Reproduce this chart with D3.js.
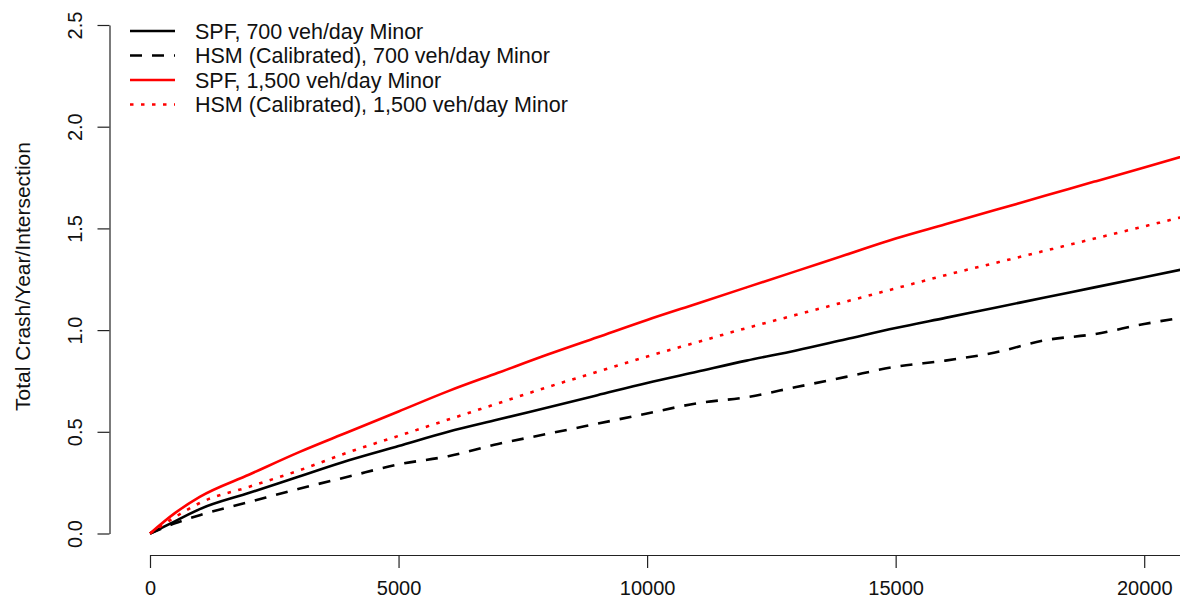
<!DOCTYPE html>
<html>
<head>
<meta charset="utf-8">
<script src="https://cdn.jsdelivr.net/npm/d3@7"></script>
<style>
  html, body { margin: 0; padding: 0; background: #fff; }
  text { font-family: "Liberation Sans", Arial, sans-serif; }
</style>
</head>
<body>
<svg id="chart" width="1180" height="610"></svg>
<script>
// ---- data ----
const majorAADT = [0, 500, 1000, 2000, 3000, 4000, 5000, 6000, 7000, 8000, 9000, 10000,
                   11000, 12000, 13000, 14000, 15000, 16000, 17000, 18000, 19000, 20000, 21000];
const spf700  = [0, 0.06, 0.12, 0.20, 0.28, 0.36, 0.43, 0.50, 0.56, 0.62, 0.68, 0.74,
                 0.795, 0.85, 0.90, 0.955, 1.01, 1.06, 1.11, 1.16, 1.21, 1.26, 1.31];
const hsm700  = [0, 0.05, 0.09, 0.155, 0.22, 0.28, 0.34, 0.38, 0.44, 0.49, 0.54, 0.59,
                 0.64, 0.67, 0.72, 0.77, 0.82, 0.85, 0.89, 0.95, 0.98, 1.03, 1.07];
const spf1500 = [0, 0.10, 0.18, 0.29, 0.40, 0.50, 0.60, 0.70, 0.79, 0.88, 0.965, 1.05,
                 1.13, 1.21, 1.29, 1.37, 1.45, 1.52, 1.59, 1.66, 1.73, 1.80, 1.87];
const hsm1500 = [0, 0.08, 0.15, 0.23, 0.31, 0.40, 0.48, 0.56, 0.64, 0.72, 0.795, 0.87,
                 0.94, 1.01, 1.075, 1.14, 1.205, 1.27, 1.33, 1.39, 1.45, 1.51, 1.57];
const seriesNames = ["SPF, 700 veh/day Minor", "HSM (Calibrated), 700 veh/day Minor",
                     "SPF, 1,500 veh/day Minor", "HSM (Calibrated), 1,500 veh/day Minor"];
const xTicks = [0, 5000, 10000, 15000, 20000];
const yTicks = [0, 0.5, 1.0, 1.5, 2.0, 2.5];
const yTitle = "Total Crash/Year/Intersection";

// ---- styles ----
const styles = [
  { color: "#000", dash: null },
  { color: "#000", dash: "12,10" },
  { color: "#ff0000", dash: null },
  { color: "#ff0000", dash: "3.5,7.5" }
];
const seriesValues = [spf700, hsm700, spf1500, hsm1500];

const svg = d3.select("#chart");
const x = d3.scaleLinear().domain([0, 20720]).range([150, 1180]);
const y = d3.scaleLinear().domain([0, 2.5]).range([533.5, 25]);

svg.append("defs").append("clipPath").attr("id", "clip")
  .append("rect").attr("x", 0).attr("y", 0).attr("width", 1180).attr("height", 610);

// x axis
const xAxis = svg.append("g").attr("transform", "translate(0,555)")
  .call(d3.axisBottom(x).tickValues(xTicks).tickSize(13).tickSizeOuter(0).tickFormat(d3.format("d")));
xAxis.select(".domain").attr("stroke", "#222").attr("stroke-width", 1.2);
xAxis.selectAll(".tick line").attr("stroke", "#222").attr("stroke-width", 1.2);
xAxis.selectAll(".tick text").attr("font-size", 20).attr("fill", "#111")
  .attr("y", 26).attr("dy", "0.71em");

// y axis
const yAxis = svg.append("g").attr("transform", "translate(109.5,0)")
  .call(d3.axisLeft(y).tickValues(yTicks).tickSize(12).tickSizeOuter(0).tickFormat(d3.format(".1f")));
yAxis.select(".domain").attr("stroke", "#222").attr("stroke-width", 1.2);
yAxis.selectAll(".tick line").attr("stroke", "#222").attr("stroke-width", 1.2);
yAxis.selectAll(".tick text").attr("font-size", 20).attr("fill", "#111")
  .attr("x", null).attr("dy", null)
  .attr("text-anchor", "middle")
  .attr("transform", "translate(-28,0) rotate(-90)");

// y title
svg.append("text")
  .attr("transform", "translate(30,276.5) rotate(-90)")
  .attr("text-anchor", "middle")
  .attr("font-size", 21).attr("fill", "#111")
  .text(yTitle);

// lines
const line = d3.line().curve(d3.curveMonotoneX)
  .x((d, i) => x(majorAADT[i])).y(d => y(d));
const g = svg.append("g").attr("clip-path", "url(#clip)");
seriesValues.forEach((vals, k) => {
  g.append("path").datum(vals)
    .attr("d", line)
    .attr("fill", "none")
    .attr("stroke", styles[k].color)
    .attr("stroke-width", 2.6)
    .attr("stroke-dasharray", styles[k].dash)
    .attr("stroke-linejoin", "round");
});

// legend
const leg = svg.append("g");
seriesNames.forEach((name, k) => {
  const cy = 31 + k * 24.5;
  leg.append("line")
    .attr("x1", 130).attr("x2", 175).attr("y1", cy).attr("y2", cy)
    .attr("stroke", styles[k].color).attr("stroke-width", 2.6)
    .attr("stroke-dasharray", styles[k].dash);
  leg.append("text")
    .attr("x", 195).attr("y", cy).attr("dy", "0.35em")
    .attr("font-size", 21.5).attr("fill", "#111")
    .text(name);
});
</script>
</body>
</html>
